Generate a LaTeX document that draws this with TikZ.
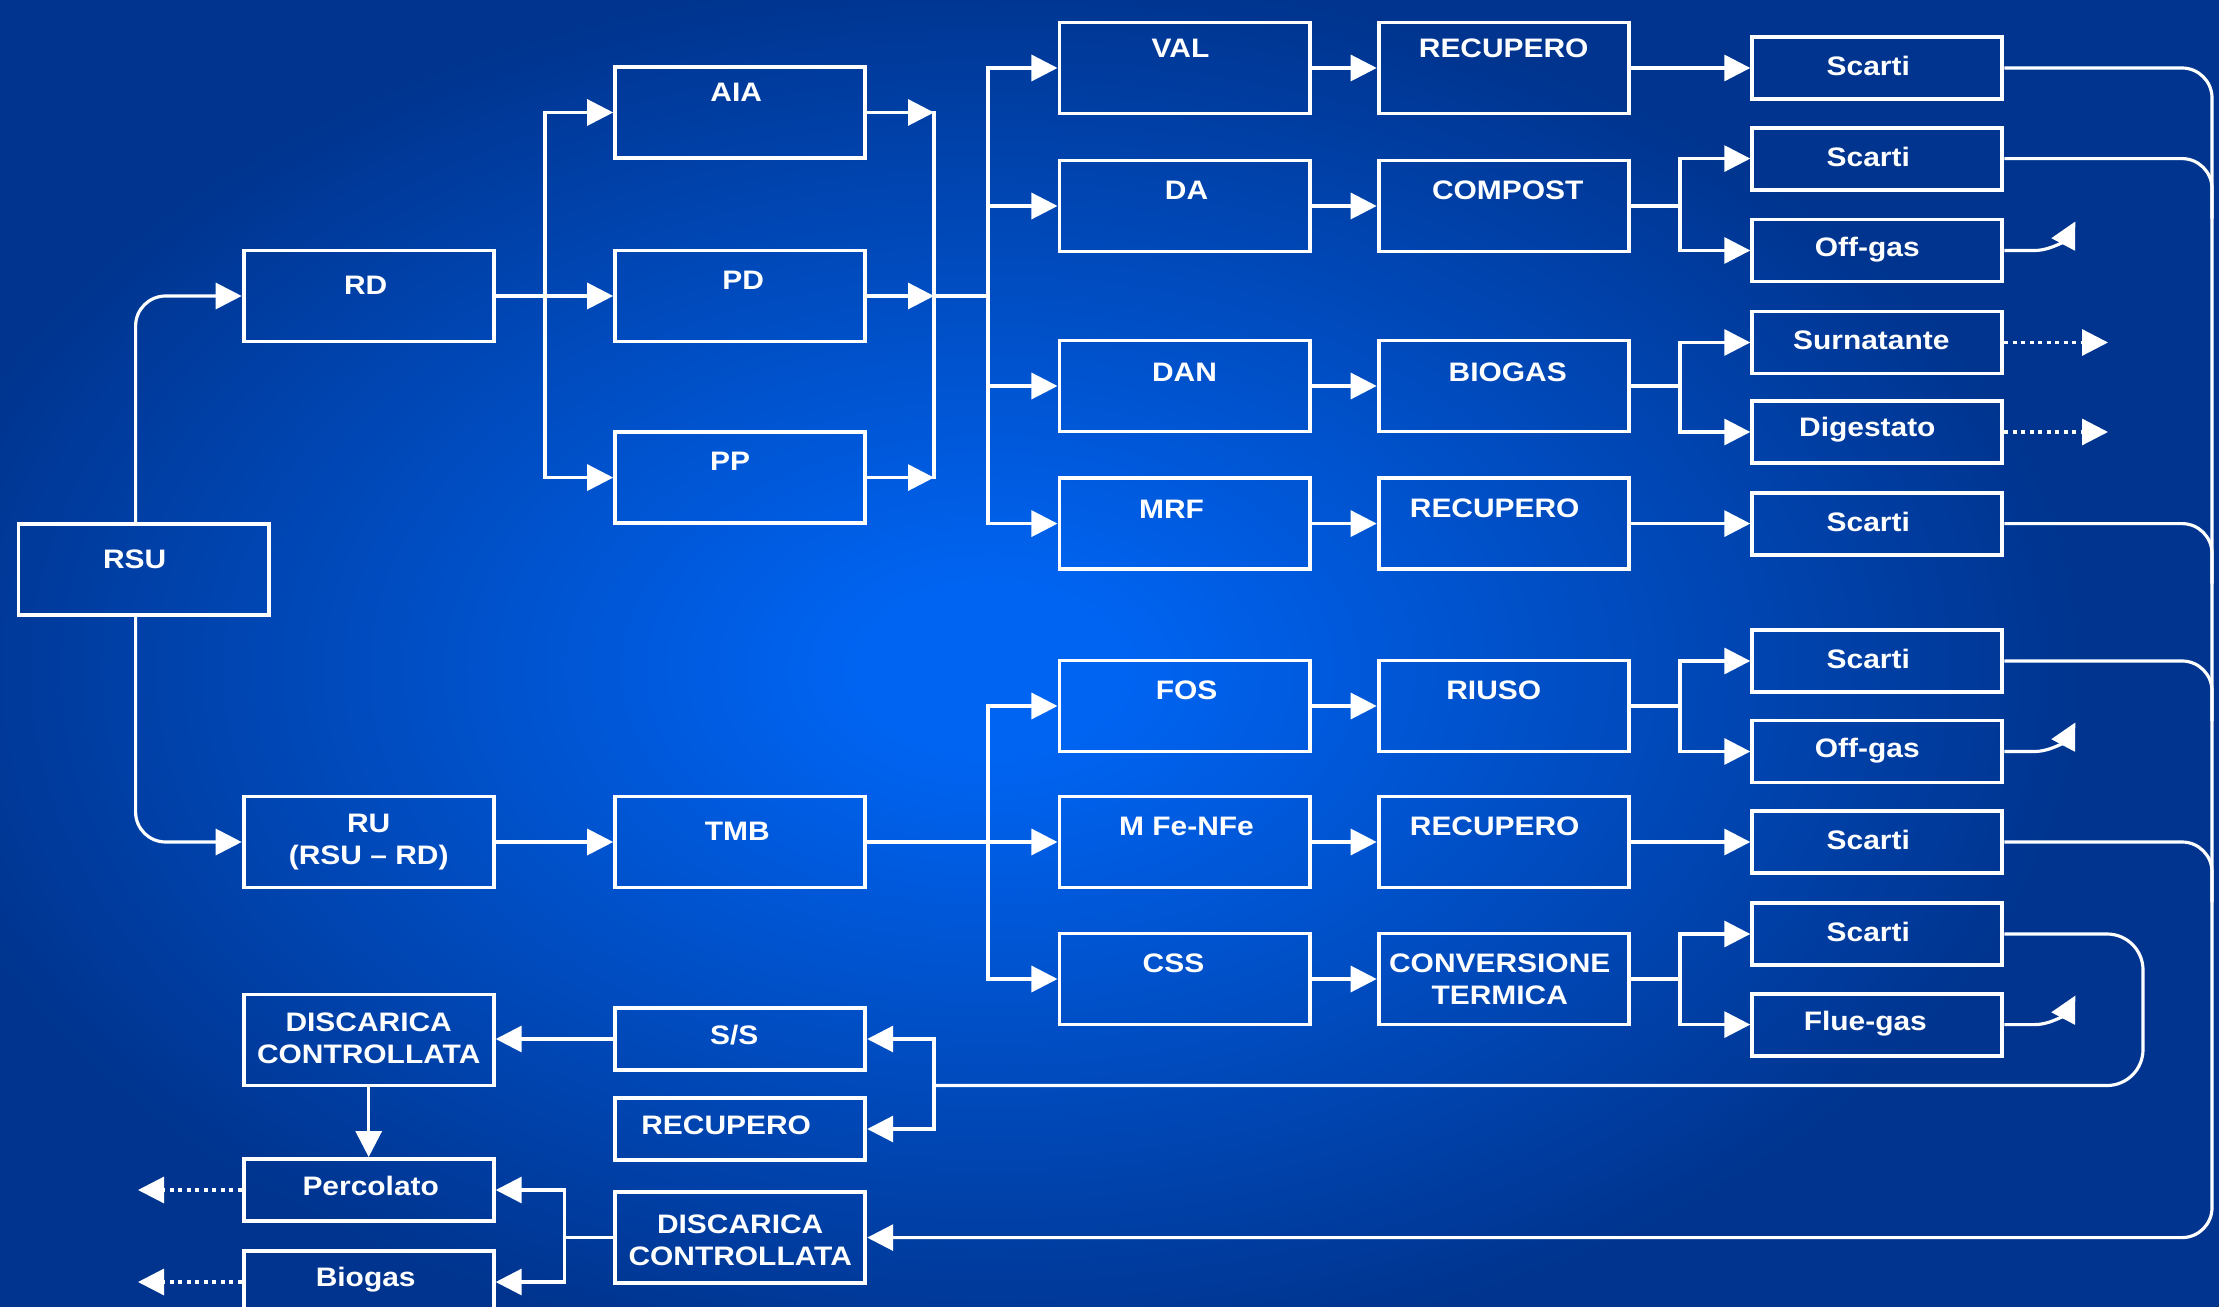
\documentclass[tikz,border=0pt]{standalone}
\usepackage{fontspec}
\setmainfont{Liberation Sans}[FakeStretch=1.12]
\usetikzlibrary{arrows.meta,calc}
\definecolor{bgin}{RGB}{0,100,242}
\definecolor{bgout}{RGB}{0,52,142}
\pgfdeclareradialshading{bgrad}{\pgfpoint{0bp}{0bp}}{color(0bp)=(bgin); color(3bp)=(bgin); color(25bp)=(bgout); color(50bp)=(bgout)}
\newcommand\B[6]{\node[#1] (#2) at (#3) {};\node[txt] (#2t) at ($(#2.center)+(#4,#5)$) {#6};}
\begin{document}
\begin{tikzpicture}[x=0.01cm,y=-0.01cm,
  box/.style={draw=white, line width=1.1pt, minimum width=2.5cm, inner sep=0pt},
  big/.style={box, minimum height=0.91cm},
  small/.style={box, minimum height=0.62cm},
  txt/.style={text=white, font=\bfseries\fontsize{7.6}{9.2}\selectfont, align=center, inner sep=0pt},
  ln/.style={draw=white, line width=0.9pt},
  bus/.style={ln, line cap=rect},
  arr/.style={ln, -{Triangle[length=0.26cm,width=0.26cm]}},
  darr/.style={ln, line cap=butt, dash pattern=on 0.04cm off 0.045cm, -{Triangle[length=0.26cm,width=0.26cm]}}]
\useasboundingbox (0,0) rectangle (2219,1307);
\clip (0,0) rectangle (2219,1307);
\fill[bgout] (0,0) rectangle (2219,1307);
\shade[shading=bgrad] (-110,-30) rectangle (2090,1370);

% column 1
\B{big}{RSU}{143.6,569.6}{-9}{-10}{RSU}
\B{big}{RD}{368.7,296}{-3}{-11}{RD}
\B{big}{RU}{368.7,842}{0}{0}{RU\\(RSU – RD)}
\B{big}{DiscL}{368.7,1040}{0}{-2}{DISCARICA\\CONTROLLATA}
\B{small}{Perc}{368.7,1190}{2}{-4}{Percolato}
\B{small}{BioL}{368.7,1282}{-3}{-2}{Biogas}
% column 2
\B{big}{AIA}{740.2,112.5}{-4}{-20}{AIA}
\B{big}{PD}{740.2,296}{3}{-16}{PD}
\B{big}{PP}{740.2,477.6}{-10}{-16}{PP}
\B{big}{TMB}{740.2,842}{-3}{-11}{TMB}
\B{small}{SS}{740.2,1039}{-6}{-4}{S/S}
\B{small}{RecF}{740.2,1129}{-14}{-4}{RECUPERO}
\B{big}{DiscR}{740.2,1237.6}{0}{3}{DISCARICA\\CONTROLLATA}
% column 3
\B{big}{VAL}{1184.5,68}{-4}{-20}{VAL}
\B{big}{DA}{1184.5,206}{2}{-16}{DA}
\B{big}{DAN}{1184.5,386}{0}{-14}{DAN}
\B{big}{MRF}{1184.5,523.6}{-13}{-14}{MRF}
\B{big}{FOS}{1184.5,706}{2}{-16}{FOS}
\B{big}{MFe}{1184.5,842}{2}{-16}{M Fe-NFe}
\B{big}{CSS}{1184.5,979}{-11}{-16}{CSS}
% column 4
\B{big}{RecA}{1503.7,68}{0}{-20}{RECUPERO}
\B{big}{Comp}{1503.7,206}{4}{-16}{COMPOST}
\B{big}{Biog}{1503.7,386}{4}{-14}{BIOGAS}
\B{big}{RecB}{1503.7,523.6}{-9}{-15}{RECUPERO}
\B{big}{Riuso}{1503.7,706}{-10}{-16}{RIUSO}
\B{big}{RecC}{1503.7,842}{-9}{-16}{RECUPERO}
\B{big}{Conv}{1503.7,979}{-4}{0}{CONVERSIONE\\TERMICA}
% column 5
\B{small}{ScA}{1877.3,68}{-9}{-2}{Scarti}
\B{small}{ScB}{1877.3,158.6}{-9}{-2}{Scarti}
\B{small}{OgA}{1877.3,250.5}{-10}{-1}{Off-gas}
\B{small}{Sur}{1877.3,342.5}{-6}{-2}{Surnatante}
\B{small}{Dig}{1877.3,432}{-10}{-2}{Digestato}
\B{small}{ScC}{1877.3,523.6}{-9}{-2}{Scarti}
\B{small}{ScD}{1877.3,661}{-9}{-2}{Scarti}
\B{small}{OgB}{1877.3,751.5}{-10}{-1}{Off-gas}
\B{small}{ScE}{1877.3,842}{-9}{-2}{Scarti}
\B{small}{ScF}{1877.3,934}{-9}{-2}{Scarti}
\B{small}{Flue}{1877.3,1024.6}{-12}{-1}{Flue-gas}

% coordinates
\coordinate (b1) at (545,296);
\coordinate (b2) at (934,296);
\coordinate (b3) at (988,296);
\coordinate (b4) at (564.6,1237.6);
\coordinate (b5) at (988,842);
\coordinate (s1) at (1680,0);
\coordinate (rb) at (2212,1237.6);
\coordinate (lb) at (2143,1085.5);
\coordinate (pl) at (138,1190);
\coordinate (bl) at (138,1282);
\coordinate (sr) at (2108,342.5);
\coordinate (dr) at (2108,432);

% RSU
\draw[arr, rounded corners=0.3cm] ($(RSU.north)+(-8,0)$) |- (RD.west);
\draw[arr, rounded corners=0.3cm] ($(RSU.south)+(-8,0)$) |- (RU.west);
% RD bus
\draw[ln] (RD.east) -- (b1);
\draw[bus] (AIA.west -| b1) -- (PP.west -| b1);
\draw[arr] (AIA.west -| b1) -- (AIA.west);
\draw[arr] (b1) -- (PD.west);
\draw[arr] (PP.west -| b1) -- (PP.west);
% merge
\draw[arr] (AIA.east) -- (AIA.east -| b2);
\draw[arr] (PD.east) -- (b2);
\draw[arr] (PP.east) -- (PP.east -| b2);
\draw[bus] (AIA.east -| b2) -- (PP.east -| b2);
\draw[ln] (b2) -- (b3);
\draw[bus] (VAL.west -| b3) -- (MRF.west -| b3);
\foreach \n in {VAL,DA,DAN,MRF} \draw[arr] (\n.west -| b3) -- (\n.west);
% RU / TMB
\draw[arr] (RU.east) -- (TMB.west);
\draw[ln] (TMB.east) -- (b5);
\draw[bus] (FOS.west -| b5) -- (CSS.west -| b5);
\foreach \n in {FOS,MFe,CSS} \draw[arr] (\n.west -| b5) -- (\n.west);
% col3 -> col4
\draw[arr] (VAL.east) -- (RecA.west);
\draw[arr] (DA.east) -- (Comp.west);
\draw[arr] (DAN.east) -- (Biog.west);
\draw[arr] (MRF.east) -- (RecB.west);
\draw[arr] (FOS.east) -- (Riuso.west);
\draw[arr] (MFe.east) -- (RecC.west);
\draw[arr] (CSS.east) -- (Conv.west);
% col4 -> col5
\draw[arr] (RecA.east) -- (ScA.west);
\draw[arr] (RecB.east) -- (ScC.west);
\draw[arr] (RecC.east) -- (ScE.west);
\draw[ln] (Comp.east) -- (Comp.east -| s1);
\draw[bus] (ScB.west -| s1) -- (OgA.west -| s1);
\draw[arr] (ScB.west -| s1) -- (ScB.west);
\draw[arr] (OgA.west -| s1) -- (OgA.west);
\draw[ln] (Biog.east) -- (Biog.east -| s1);
\draw[bus] (Sur.west -| s1) -- (Dig.west -| s1);
\draw[arr] (Sur.west -| s1) -- (Sur.west);
\draw[arr] (Dig.west -| s1) -- (Dig.west);
\draw[ln] (Riuso.east) -- (Riuso.east -| s1);
\draw[bus] (ScD.west -| s1) -- (OgB.west -| s1);
\draw[arr] (ScD.west -| s1) -- (ScD.west);
\draw[arr] (OgB.west -| s1) -- (OgB.west);
\draw[ln] (Conv.east) -- (Conv.east -| s1);
\draw[bus] (ScF.west -| s1) -- (Flue.west -| s1);
\draw[arr] (ScF.west -| s1) -- (ScF.west);
\draw[arr] (Flue.west -| s1) -- (Flue.west);
% gas outputs
\foreach \n in {OgA,OgB,Flue}
  \draw[arr] (\n.east) -- ($(\n.east)+(30,0)$) .. controls ($(\n.east)+(48,0)$) and ($(\n.east)+(62,-12)$) .. ($(\n.east)+(71,-29)$);
\draw[darr] (Sur.east) -- (sr);
\draw[darr] (Dig.east) -- (dr);
% right return bus
\draw[arr, rounded corners=0.3cm] (ScA.east) -| (rb) -- (DiscR.east);
\foreach \n in {ScB,ScC,ScD,ScE}
  \draw[ln, rounded corners=0.3cm] (\n.east) -| ($(\n.east -| rb)+(0,60)$);
% inner loop
\draw[ln, rounded corners=0.36cm] (ScF.east) -| (lb) -- (lb -| b2);
\draw[bus] (SS.east -| b2) -- (RecF.east -| b2);
\draw[arr] (SS.east -| b2) -- (SS.east);
\draw[arr] (RecF.east -| b2) -- (RecF.east);
% bottom left
\draw[arr] (SS.west) -- (SS.west -| DiscL.east);
\draw[arr] (DiscL.south) -- (Perc.north);
\draw[darr] (Perc.west) -- (pl);
\draw[darr] (BioL.west) -- (bl);
\draw[ln] (DiscR.west) -- (b4);
\draw[bus] (Perc.east -| b4) -- (BioL.east -| b4);
\draw[arr] (Perc.east -| b4) -- (Perc.east);
\draw[arr] (BioL.east -| b4) -- (BioL.east);
\end{tikzpicture}
\end{document}
